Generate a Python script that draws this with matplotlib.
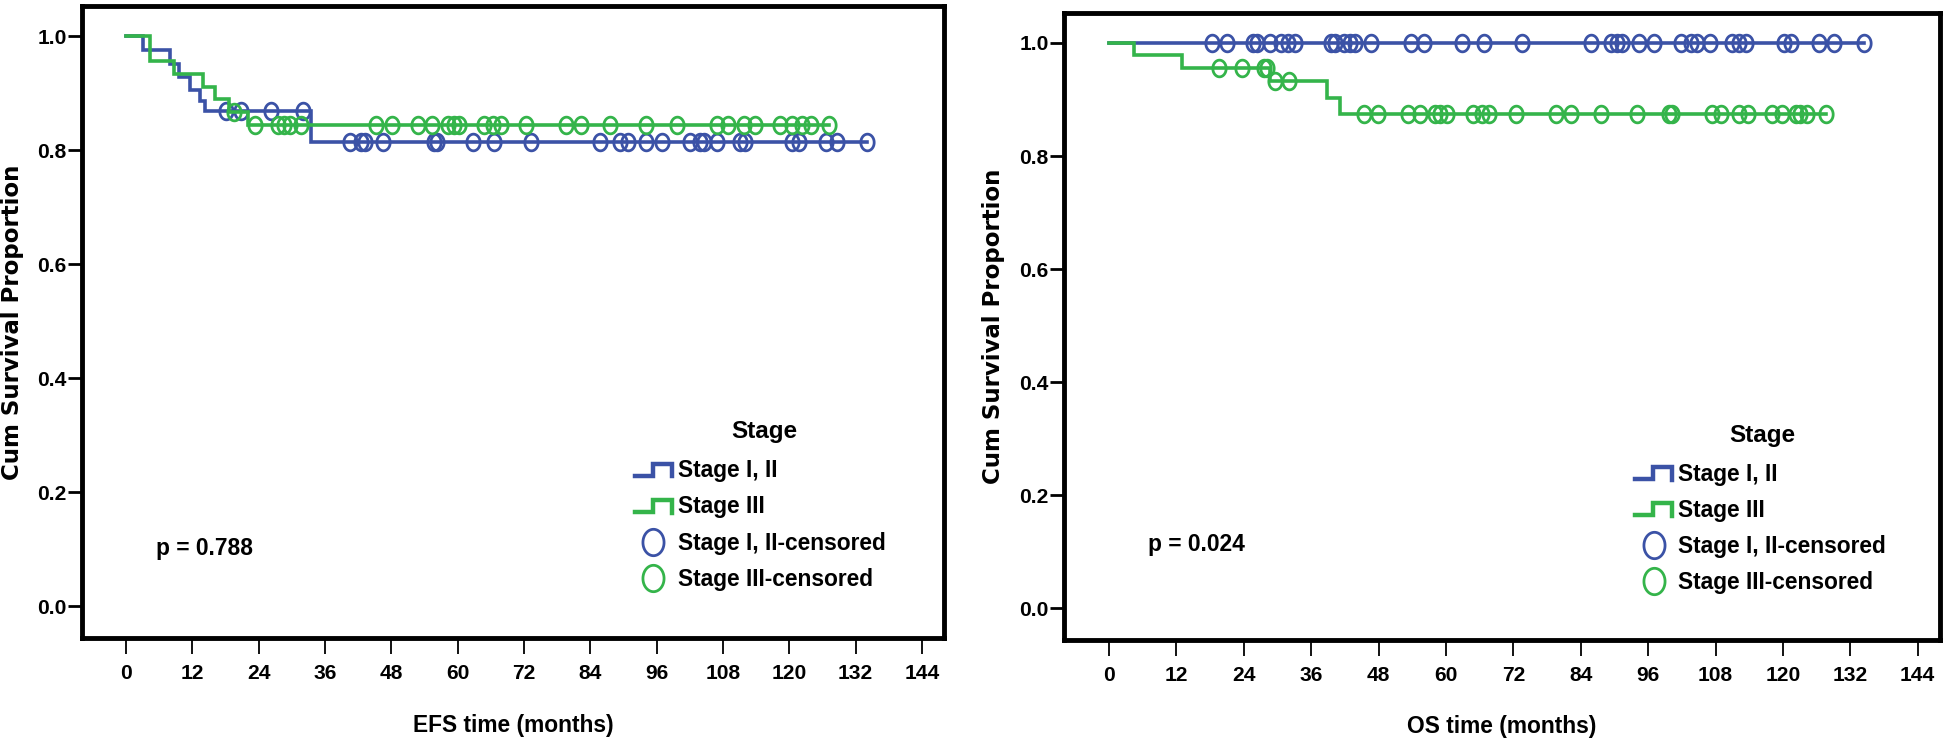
import numpy as np
import matplotlib
matplotlib.use('Agg')
import matplotlib.pyplot as plt
from matplotlib import font_manager
from matplotlib.lines import Line2D
from matplotlib.path import Path
from matplotlib.legend_handler import HandlerBase

plt.rcParams['font.family'] = ['Liberation Sans', 'DejaVu Sans']
plt.rcParams['font.weight'] = 'bold'

# SPSS draws most text in a narrow bold face
names = {f.name for f in font_manager.fontManager.ttflist}
if 'Liberation Sans Narrow' in names:
    narrow, k, lsp = 'Liberation Sans Narrow', 1.0, 0.3
else:
    narrow, k, lsp = 'Liberation Sans', 0.82, 0.58

# colours used by SPSS for the two groups
blue = '#3b52a6'
green = '#34b44a'

# EFS, Stage I, II: event times / survival after each event, censored times
efs_a_times = [3.0, 8.0, 9.5, 11.5, 13.4, 14.2, 33.5]
efs_a_surv = [0.976, 0.952, 0.929, 0.905, 0.886, 0.868, 0.814]
efs_a_cens = [18.0, 20.8, 26.3, 32.0, 40.5, 42.5, 43.3, 46.5, 55.8, 56.2, 62.7,
              66.5, 73.3, 85.7, 89.3, 90.9, 94.1, 96.9, 102.1, 103.8, 104.6,
              107.0, 111.0, 111.9, 120.5, 121.8, 126.6, 128.6, 134.0]

# EFS, Stage III
efs_b_times = [4.4, 8.7, 13.9, 16.1, 18.6, 22.0]
efs_b_surv = [0.956, 0.933, 0.911, 0.889, 0.867, 0.844]
efs_b_cens = [19.6, 23.4, 27.5, 28.5, 29.6, 31.6, 45.3, 48.1, 52.9, 55.3, 58.2,
              59.4, 60.2, 64.7, 66.3, 67.9, 72.3, 79.6, 82.4, 87.6, 94.1, 99.7,
              106.9, 109.0, 111.8, 113.8, 118.3, 120.5, 122.3, 124.0, 127.2]

# OS, Stage I, II (no events)
os_a_times = []
os_a_surv = []
os_a_cens = [18.4, 21.0, 25.6, 26.3, 28.7, 30.7, 31.9, 33.1, 39.5, 40.2, 41.8,
             43.0, 43.8, 46.6, 53.7, 56.1, 62.9, 66.8, 73.5, 85.8, 89.4, 90.5,
             91.4, 94.4, 97.1, 101.8, 103.6, 104.7, 107.1, 110.9, 112.2, 113.4,
             120.2, 121.4, 126.4, 129.1, 134.4]

# OS, Stage III
os_b_times = [4.4, 13.0, 28.6, 38.9, 41.1]
os_b_surv = [0.979, 0.956, 0.932, 0.903, 0.874]
os_b_cens = [19.6, 23.6, 27.6, 28.1, 29.5, 32.1, 45.4, 47.9, 53.3, 55.3, 58.1,
             58.9, 60.1, 64.9, 66.5, 67.6, 72.5, 79.6, 82.3, 87.6, 94.1, 99.7,
             100.3, 107.4, 108.9, 112.2, 113.7, 118.1, 119.8, 122.3, 123.1,
             124.3, 127.6]

group_labels = ['Stage I, II', 'Stage III', 'Stage I, II-censored', 'Stage III-censored']
xticks = list(range(0, 145, 12))
yticks = [0.0, 0.2, 0.4, 0.6, 0.8, 1.0]

# slightly tall ellipse used as censor mark
th = np.linspace(0, 2 * np.pi, 64)
oval = Path(np.column_stack([0.8 * np.cos(th), np.sin(th)]), closed=True)


def surv_at(t, times, surv):
    i = np.searchsorted(times, t, side='right')
    return 1.0 if i == 0 else surv[i - 1]


def km(ax, times, surv, cens, col):
    last = max(cens + times)
    x = [0] + times + [last]
    y = [1.0] + surv + [surv[-1] if surv else 1.0]
    ax.step(x, y, where='post', color=col, lw=2.6, solid_joinstyle='miter')
    cy = [surv_at(c, times, surv) for c in cens]
    ax.plot(cens, cy, ls='none', marker=oval, ms=12, mfc='none', mec=col, mew=2.0)


class StepHandler(HandlerBase):
    def create_artists(self, legend, orig, xd, yd, width, height, fontsize, trans):
        xs = np.array([0, 0.48, 0.48, 1.0, 1.0]) * width - xd
        ys = np.array([0.1, 0.1, 0.85, 0.85, 0.05]) * height - yd
        ln = Line2D(xs, ys, color=orig.get_color(), lw=3.2,
                    solid_joinstyle='miter', transform=trans)
        return [ln]


fig = plt.figure(figsize=(19.46, 7.43), dpi=100)
ax1 = fig.add_axes([0.0421, 0.1413, 0.4430, 0.8506])
ax2 = fig.add_axes([0.5468, 0.1386, 0.4502, 0.8439])

panels = [
    (ax1, efs_a_times, efs_a_surv, efs_a_cens, efs_b_times, efs_b_surv, efs_b_cens,
     'EFS time (months)', 'p = 0.788', 0.086, 0.142, 0.6415, 0.792),
    (ax2, os_a_times, os_a_surv, os_a_cens, os_b_times, os_b_surv, os_b_cens,
     'OS time (months)', 'p = 0.024', 0.096, 0.152, 0.652, 0.797),
]

for ax, at, asv, ac, bt, bsv, bc, xl, ptxt, px, py, lx, tx in panels:
    km(ax, at, asv, ac, blue)
    km(ax, bt, bsv, bc, green)

    ax.set_xlim(-8, 148)
    ax.set_ylim(-0.056, 1.053)
    ax.set_xticks(xticks)
    ax.set_yticks(yticks)
    ax.set_yticklabels([f'{v:.1f}' for v in yticks])
    ax.tick_params(axis='x', direction='out', length=11.5, width=1.3, pad=7)
    ax.tick_params(axis='y', direction='out', length=10, width=2, pad=1)
    for lab in ax.get_xticklabels() + ax.get_yticklabels():
        lab.set_family(narrow)
        lab.set_fontsize(18.5 * k)
    for s in ax.spines.values():
        s.set_linewidth(3.5)

    ax.set_xlabel(xl, family=narrow, fontsize=20 * k, fontweight='bold', va='center')
    ax.xaxis.set_label_coords(0.5, -0.138)
    ax.set_ylabel('Cum Survival Proportion', family='DejaVu Sans', fontsize=16.5,
                  fontweight='bold', va='center')
    ax.yaxis.set_label_coords(-0.081, 0.5)

    ax.text(px, py, ptxt, transform=ax.transAxes, family=narrow, fontsize=20 * k,
            va='center', ha='left')
    ax.text(tx, 0.326, 'Stage', transform=ax.transAxes, fontsize=17.5,
            va='center', ha='center')

    handles = [Line2D([], [], color=blue, lw=3), Line2D([], [], color=green, lw=3),
               Line2D([], [], ls='none', marker=oval, ms=19, mfc='none', mec=blue, mew=2),
               Line2D([], [], ls='none', marker=oval, ms=19, mfc='none', mec=green, mew=2)]
    hmap = {handles[0]: StepHandler(), handles[1]: StepHandler()}
    ax.legend(handles, group_labels, handler_map=hmap, loc='upper left',
              bbox_to_anchor=(lx, 0.283), frameon=False,
              prop={'family': narrow, 'size': 20 * k, 'weight': 'bold'},
              handlelength=1.33 / k, handletextpad=0.22 / k, labelspacing=lsp,
              borderpad=0, borderaxespad=0)

fig.savefig('out.png', dpi=100)
